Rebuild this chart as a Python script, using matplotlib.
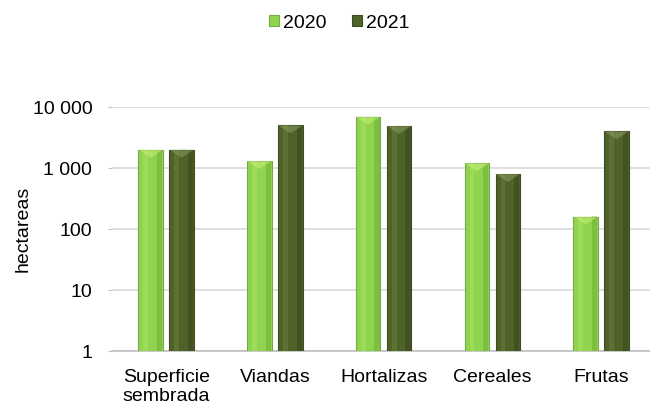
import numpy as np
import matplotlib
matplotlib.use("Agg")
import matplotlib.pyplot as plt
from matplotlib.patches import Polygon

plt.rcParams["font.family"] = ["Liberation Sans", "DejaVu Sans"]
plt.rcParams["font.size"] = 14

# -------------------------------------------------------------------
# DATOS
# -------------------------------------------------------------------
categorias = ["Superficie\nsembrada", "Viandas", "Hortalizas", "Cereales", "Frutas"]
valores_2020 = [2000, 1300, 7000, 1200, 160]
valores_2021 = [2000, 5000, 4900, 800, 4000]
series = ["2020", "2021"]
ticks_y = [1, 10, 100, 1000, 10000]
etiquetas_y = ["1", "10", "100", "1 000", "10 000"]

COLOR_CLARO = "#8fd44f"
COLOR_OSCURO = "#4f6228"
BORDE_CLARO = "#78a848"
BORDE_OSCURO = "#3d4d22"


def dibujar_barras(ax, xs, valores, color, borde, claro, oscuro, ancho):
    barras = ax.bar(xs, valores, width=ancho, color=color, edgecolor=borde,
                    linewidth=0.8, zorder=3)
    for x, v in zip(xs, valores):
        # franja oscura a la derecha
        ax.bar(x + ancho * 0.36, v, width=ancho * 0.22, bottom=1, color=oscuro,
               alpha=0.35, linewidth=0, zorder=4)
        # franja clara a la izquierda
        ax.bar(x - ancho * 0.2, v, width=ancho * 0.2, bottom=1, color=claro,
               alpha=0.25, linewidth=0, zorder=4)
        # bisel superior
        tri = Polygon([(x - ancho / 2, v), (x + ancho / 2, v), (x, v / 10 ** 0.13)],
                      closed=True, facecolor=claro, alpha=0.55, edgecolor="none",
                      zorder=5)
        ax.add_patch(tri)
    return barras


fig = plt.figure(figsize=(6.5, 4.04), dpi=100)
ax = fig.add_axes([0.172, 0.131, 0.828, 0.604])

x = np.arange(len(categorias))
ancho = 0.225
desp = 0.1425

b1 = dibujar_barras(ax, x - desp, valores_2020, COLOR_CLARO, BORDE_CLARO,
                    "#c8f07a", "#5f9a2a", ancho)
b2 = dibujar_barras(ax, x + desp, valores_2021, COLOR_OSCURO, BORDE_OSCURO,
                    "#8a9c60", "#2c3814", ancho)

ax.set_yscale("log")
ax.set_ylim(1, 10000)
ax.set_xlim(-0.5, 4.45)
ax.set_yticks(ticks_y)
ax.set_yticklabels(etiquetas_y)
ax.yaxis.set_minor_locator(matplotlib.ticker.NullLocator())
ax.set_xticks(x)
ax.set_xticklabels(categorias, linespacing=1.15)
ax.tick_params(axis="x", length=0, pad=13)
ax.tick_params(axis="y", length=3, color="#bfbfbf", pad=11)

ax.grid(True, axis="y", color="#d9d9d9", linewidth=1.2, zorder=0)
ax.set_axisbelow(True)
for lado in ["top", "right", "left"]:
    ax.spines[lado].set_visible(False)
ax.spines["bottom"].set_color("#bfbfbf")
ax.spines["bottom"].set_linewidth(1.2)

ax.set_ylabel("hectareas", labelpad=1)

fig.legend([b1, b2], series, loc="center", bbox_to_anchor=(0.522, 0.943), ncol=2,
           frameon=False, handlelength=0.5, handleheight=0.5, handletextpad=0.2,
           columnspacing=1.34, fontsize=14)

fig.savefig("out.png", dpi=100)
